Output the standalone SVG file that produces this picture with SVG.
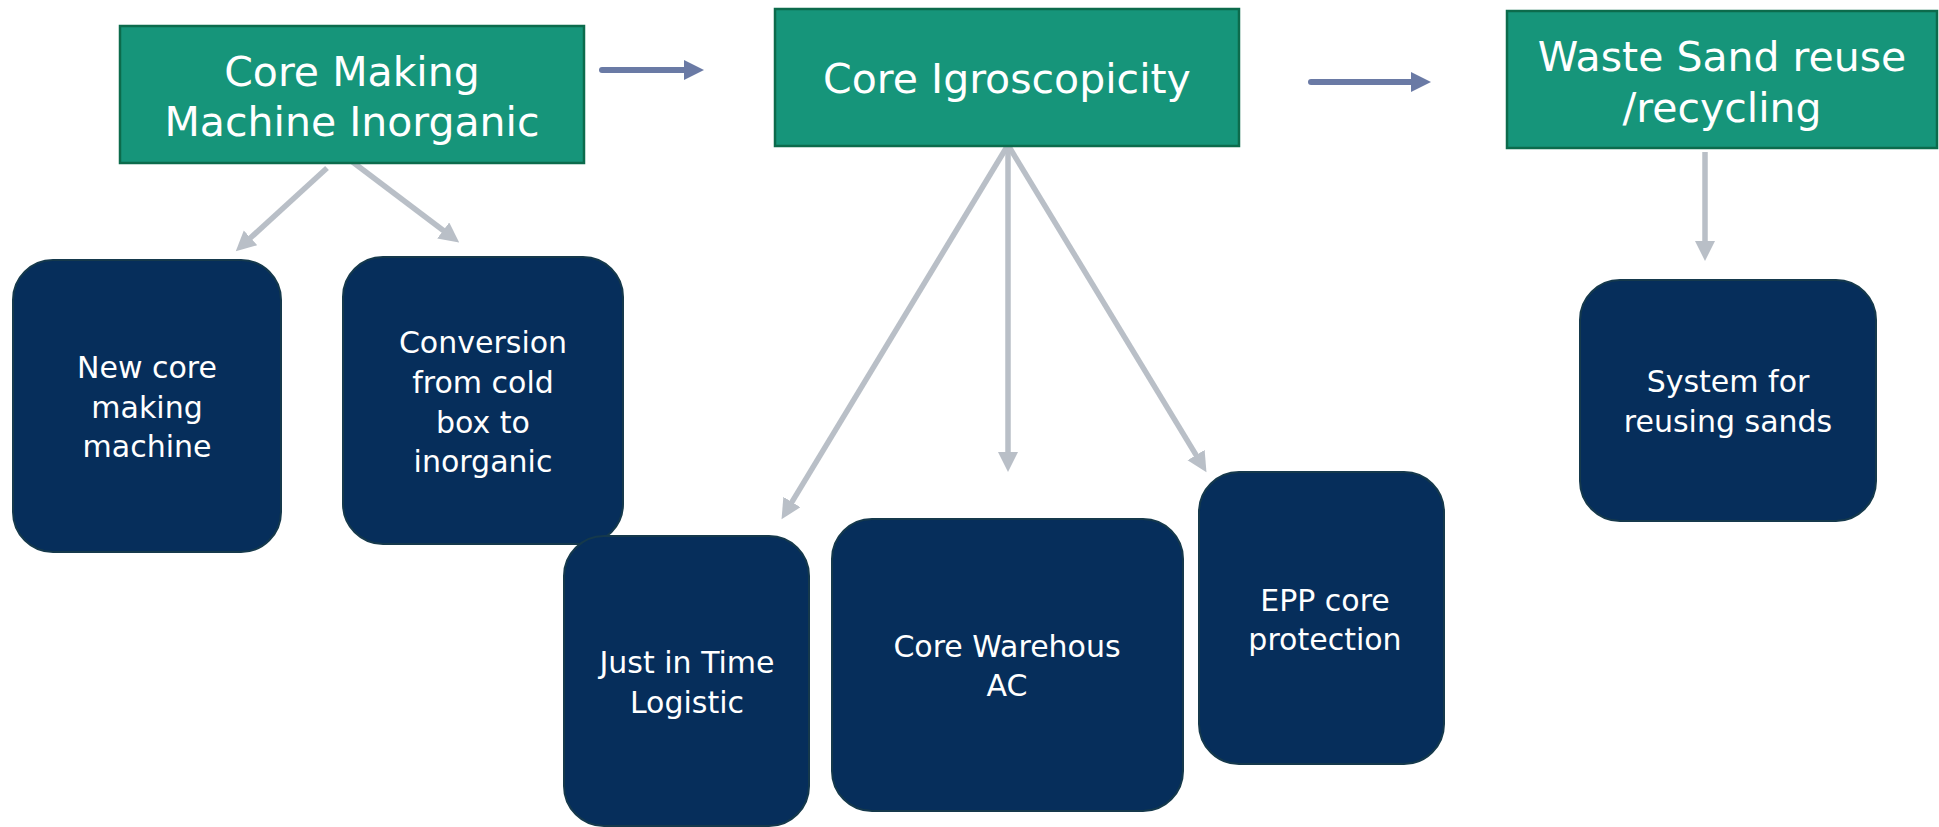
<svg xmlns="http://www.w3.org/2000/svg" width="1939" height="827" viewBox="0 0 1939 827">
  <defs>
    <style>
      .stage { fill: #16957a; stroke: #0c6b4c; stroke-width: 2.5; }
      .task { fill: #062e5b; stroke: #15394c; stroke-width: 2; }
      .stage-text { font-family: "DejaVu Sans", "Liberation Sans", sans-serif; font-size: 41px; fill: #ffffff; text-anchor: middle; }
      .task-text { font-family: "DejaVu Sans", "Liberation Sans", sans-serif; font-size: 30px; fill: #ffffff; text-anchor: middle; }
      .flow { stroke: #6a7aa5; stroke-width: 6; stroke-linecap: round; fill: none; }
      .branch { stroke: #b9bfc7; stroke-width: 5.5; stroke-linecap: butt; fill: none; }
    </style>
    <marker id="head-flow" markerUnits="userSpaceOnUse" markerWidth="22" markerHeight="22" refX="1" refY="10" orient="auto">
      <path d="M0,0 L20,10 L0,20 Z" fill="#6a7aa5"/>
    </marker>
    <marker id="head-branch" markerUnits="userSpaceOnUse" markerWidth="22" markerHeight="22" refX="1" refY="10" orient="auto">
      <path d="M0,0 L20,10 L0,20 Z" fill="#b9bfc7"/>
    </marker>
  </defs>

  <rect width="1939" height="827" fill="#ffffff"/>

  <!-- connectors -->
  <g id="connectors">
    <line class="flow" x1="602" y1="70" x2="685" y2="70" marker-end="url(#head-flow)"/>
    <line class="flow" x1="1311" y1="82" x2="1412" y2="82" marker-end="url(#head-flow)"/>
    <line class="branch" x1="327" y1="168" x2="249.8" y2="238.5" marker-end="url(#head-branch)"/>
    <line class="branch" x1="350" y1="160" x2="444" y2="231" marker-end="url(#head-branch)"/>
    <line class="branch" x1="1008" y1="145" x2="791.4" y2="502.9" marker-end="url(#head-branch)"/>
    <line class="branch" x1="1008" y1="145" x2="1008" y2="453" marker-end="url(#head-branch)"/>
    <line class="branch" x1="1008" y1="145" x2="1196.6" y2="455.9" marker-end="url(#head-branch)"/>
    <line class="branch" x1="1705" y1="152" x2="1705" y2="242" marker-end="url(#head-branch)"/>
  </g>

  <!-- stage headers -->
  <g id="core-making">
    <rect class="stage" x="120" y="26" width="464" height="137"/>
    <text class="stage-text" x="352" y="86">Core Making</text>
    <text class="stage-text" x="352" y="136">Machine Inorganic</text>
  </g>
  <g id="core-igroscopicity">
    <rect class="stage" x="775" y="9" width="464" height="137"/>
    <text class="stage-text" x="1007" y="93">Core Igroscopicity</text>
  </g>
  <g id="waste-sand">
    <rect class="stage" x="1507" y="11" width="430" height="137"/>
    <text class="stage-text" x="1722" y="71">Waste Sand reuse</text>
    <text class="stage-text" x="1722" y="122">/recycling</text>
  </g>

  <!-- tasks -->
  <g id="new-core-machine">
    <rect class="task" x="13" y="260" width="268" height="292" rx="40" ry="40"/>
    <text class="task-text" x="147" y="378">New core</text>
    <text class="task-text" x="147" y="418">making</text>
    <text class="task-text" x="147" y="457">machine</text>
  </g>
  <g id="conversion">
    <rect class="task" x="343" y="257" width="280" height="287" rx="40" ry="40"/>
    <text class="task-text" x="483" y="353">Conversion</text>
    <text class="task-text" x="483" y="393">from cold</text>
    <text class="task-text" x="483" y="433">box to</text>
    <text class="task-text" x="483" y="472">inorganic</text>
  </g>
  <g id="just-in-time">
    <rect class="task" x="564" y="536" width="245" height="290" rx="40" ry="40"/>
    <text class="task-text" x="687" y="673">Just in Time</text>
    <text class="task-text" x="687" y="713">Logistic</text>
  </g>
  <g id="core-warehouse">
    <rect class="task" x="832" y="519" width="351" height="292" rx="40" ry="40"/>
    <text class="task-text" x="1007" y="657">Core Warehous</text>
    <text class="task-text" x="1007" y="696">AC</text>
  </g>
  <g id="epp-protection">
    <rect class="task" x="1199" y="472" width="245" height="292" rx="40" ry="40"/>
    <text class="task-text" x="1325" y="611">EPP core</text>
    <text class="task-text" x="1325" y="650">protection</text>
  </g>
  <g id="sand-reuse-system">
    <rect class="task" x="1580" y="280" width="296" height="241" rx="40" ry="40"/>
    <text class="task-text" x="1728" y="392">System for</text>
    <text class="task-text" x="1728" y="432">reusing sands</text>
  </g>
</svg>
